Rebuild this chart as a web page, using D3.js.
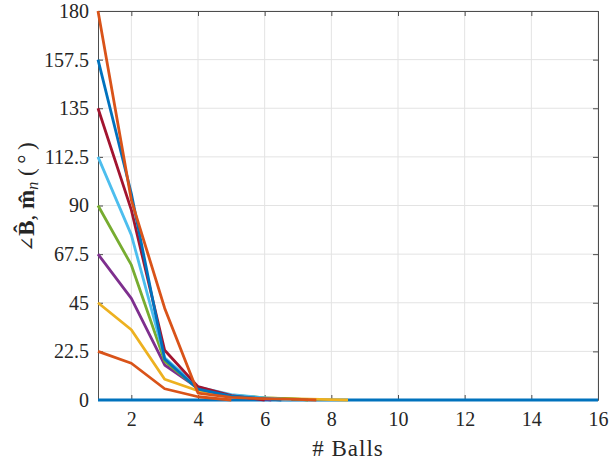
<!DOCTYPE html>
<html>
<head>
<meta charset="utf-8">
<script src="https://cdn.jsdelivr.net/npm/d3@7"></script>
<style>
  html, body { margin: 0; padding: 0; background: #fff; }
  svg { display: block; }
</style>
</head>
<body>
<svg id="chart" width="610" height="465"></svg>
<script>
// x values (# balls) and tick labels
const balls = [1, 2, 3, 4, 5, 6, 7, 8, 9, 10, 11, 12, 13, 14, 15, 16];
const xTicks = [2, 4, 6, 8, 10, 12, 14, 16];
const yTicks = [0, 22.5, 45, 67.5, 90, 112.5, 135, 157.5, 180];

// angle per ball count, one array per starting angle
const start0   = [0, 0, 0, 0, 0, 0, 0, 0, 0, 0, 0, 0, 0, 0, 0, 0];
const start22  = [22.5, 17, 5.2, 1.5, 0];
const start45  = [45, 32.5, 9.6, 4.3, 2.0, 1.0, 0.5, 0.2];
const start67  = [67.5, 47, 16.2, 5.5, 1.6, 0.4];
const start90  = [90, 62.5, 18, 5.2, 2.2, 1.0, 0.4];
const start112 = [112.5, 76.4, 19.5, 6.0, 2.5, 1.0];
const start135 = [135, 88, 23, 6.2, 2.0, 0];
const start157 = [157.5, 95.5, 19, 5.0, 1.8, 0.6];
const start180 = [180, 92.5, 42.5, 3.2, 1.2, 0.6, 0.3];
// where each trace settles to zero
const settleAt = [16, 5, 8.5, 6.2, 7.3, 6.8, 6, 6.5, 7.55];

const seriesList = [start0, start22, start45, start67, start90, start112, start135, start157, start180];
const colors = ["#0072BD", "#D95319", "#EDB120", "#7E2F8E", "#77AC30", "#4DBEEE", "#A2142F", "#0072BD", "#D95319"];

const serif = "Liberation Serif";
const svg = d3.select("#chart");
const mLeft = 98, mRight = 598, mTop = 11, mBottom = 400;

const x = d3.scaleLinear().domain([1, 16]).range([mLeft, mRight]);
const y = d3.scaleLinear().domain([0, 180]).range([mBottom, mTop]);

// grid
svg.append("g").selectAll("line").data(xTicks).join("line")
  .attr("x1", d => x(d)).attr("x2", d => x(d))
  .attr("y1", mTop).attr("y2", mBottom)
  .attr("stroke", "#e3e3e3").attr("stroke-width", 1);
svg.append("g").selectAll("line").data(yTicks).join("line")
  .attr("x1", mLeft).attr("x2", mRight)
  .attr("y1", d => y(d)).attr("y2", d => y(d))
  .attr("stroke", "#e3e3e3").attr("stroke-width", 1);

// axes (box, inward ticks)
const fmt = d => String(d);
const axB = svg.append("g").attr("transform", `translate(0,${mBottom})`)
  .call(d3.axisBottom(x).tickValues(xTicks).tickSizeInner(-5).tickSizeOuter(0).tickPadding(12).tickFormat(fmt));
const axT = svg.append("g").attr("transform", `translate(0,${mTop})`)
  .call(d3.axisTop(x).tickValues(xTicks).tickSizeInner(-5).tickSizeOuter(0).tickFormat(""));
const axL = svg.append("g").attr("transform", `translate(${mLeft},0)`)
  .call(d3.axisLeft(y).tickValues(yTicks).tickSizeInner(-5).tickSizeOuter(0).tickPadding(9).tickFormat(fmt));
const axR = svg.append("g").attr("transform", `translate(${mRight},0)`)
  .call(d3.axisRight(y).tickValues(yTicks).tickSizeInner(-5).tickSizeOuter(0).tickFormat(""));

[axB, axT, axL, axR].forEach(g => {
  g.attr("font-family", serif).attr("font-size", 20);
  g.select(".domain").attr("stroke", "#4d4d4d").attr("stroke-width", 1);
  g.selectAll(".tick line").attr("stroke", "#4d4d4d");
  g.selectAll("text").attr("font-size", 20).attr("fill", "#262626").attr("font-family", serif);
});
axB.selectAll("text").attr("dy", "0.68em");

// traces
const line = d3.line().x(d => x(d[0])).y(d => y(d[1]));
seriesList.forEach((vals, i) => {
  const pts = vals.map((v, j) => [balls[j], v]);
  const lastX = pts[pts.length - 1][0];
  if (settleAt[i] > lastX) pts.push([settleAt[i], 0]);
  svg.append("path")
    .datum(pts)
    .attr("d", line)
    .attr("fill", "none")
    .attr("stroke", colors[i])
    .attr("stroke-width", 2.8)
    .attr("stroke-linejoin", "round");
});

// axis labels
svg.append("text")
  .attr("x", (mLeft + mRight) / 2).attr("y", 456)
  .attr("text-anchor", "middle").attr("font-size", 23)
  .attr("letter-spacing", 1)
  .attr("font-family", serif).attr("fill", "#262626")
  .text("# Balls");

const yl = svg.append("text")
  .attr("transform", "translate(34,197) rotate(-90)")
  .attr("text-anchor", "middle").attr("font-size", 23)
  .attr("font-family", serif).attr("fill", "#262626");
yl.append("tspan").attr("font-family", "DejaVu Serif").attr("font-size", 19).text("\u2220");
yl.append("tspan").attr("font-weight", "bold").text("B\u0302");
yl.append("tspan").text(", ");
yl.append("tspan").attr("font-weight", "bold").text("m\u0302");
yl.append("tspan").attr("font-style", "italic").attr("font-size", 16).attr("dy", 4).text("n");
yl.append("tspan").attr("dy", -4).text(" (\u2009\u00b0\u2009)");
</script>
</body>
</html>
